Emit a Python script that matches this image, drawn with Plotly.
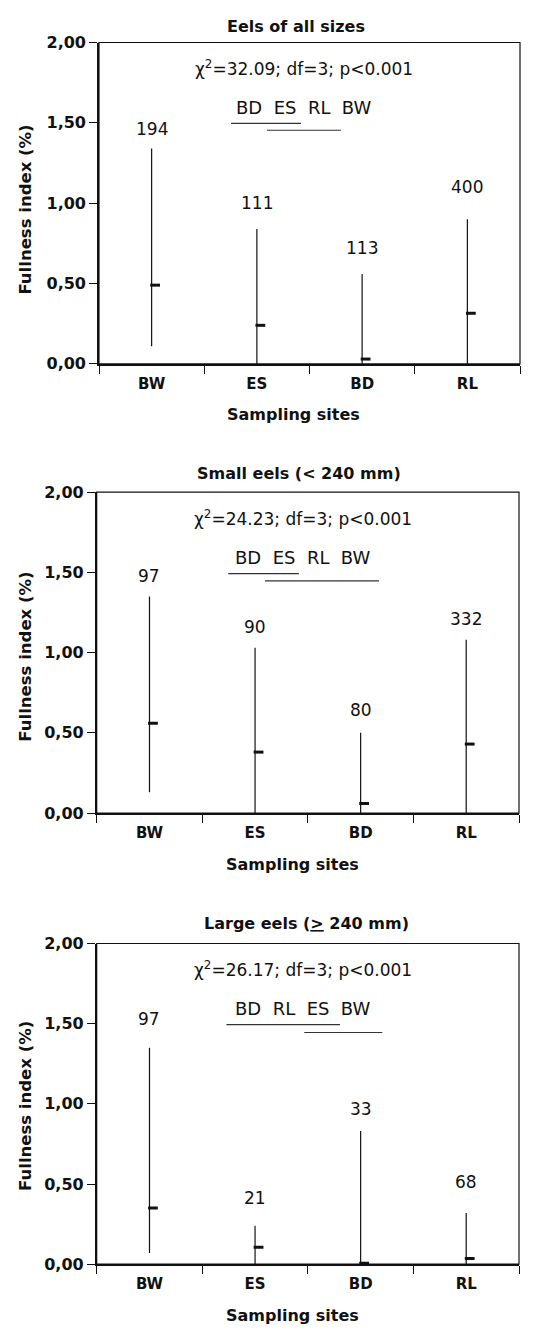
import plotly.graph_objects as go

# ---------------- data ----------------
sites = ["BW", "ES", "BD", "RL"]

panel_titles = ["Eels of all sizes", "Small eels (&lt; 240 mm)", "Large eels (<u>&gt;</u> 240 mm)"]
chi_texts = ["χ<sup>2</sup>=32.09; df=3; p&lt;0.001",
             "χ<sup>2</sup>=24.23; df=3; p&lt;0.001",
             "χ<sup>2</sup>=26.17; df=3; p&lt;0.001"]
order_texts = ["BD  ES  RL  BW", "BD  ES  RL  BW", "BD  RL  ES  BW"]

all_max = [1.34, 0.84, 0.56, 0.90]
all_min = [0.11, 0.00, 0.00, 0.00]
all_mean = [0.49, 0.24, 0.03, 0.315]
all_n = [194, 111, 113, 400]

small_max = [1.35, 1.03, 0.50, 1.08]
small_min = [0.13, 0.00, 0.00, 0.00]
small_mean = [0.56, 0.38, 0.06, 0.43]
small_n = [97, 90, 80, 332]

large_max = [1.35, 0.24, 0.83, 0.32]
large_min = [0.07, 0.00, 0.00, 0.00]
large_mean = [0.35, 0.105, 0.006, 0.035]
large_n = [97, 21, 33, 68]

yticks = [0, 0.5, 1.0, 1.5, 2.0]
yticktext = ["0,00", "0,50", "1,00", "1,50", "2,00"]

# ---------------- layout settings ----------------
W, H = 542, 1336
# pixel boxes of each plot area: (left, right, top, bottom)
boxes = [(99, 520, 34, 360), (96.7, 519, 490, 815.7), (96.7, 519, 948, 1273.3)]
title_pos = [(296, 18), (298.5, 471.7), (306, 927.7)]
xtitle_pos = [(293, 411), (292.5, 868.3), (292.5, 1325)]
ytitle_pos = [(25.5, 204), (25.5, 657.5), (25.5, 1113.3)]
label_y = [[1.46, 1.00, 0.72, 1.10], [1.48, 1.16, 0.64, 1.21], [1.53, 0.41, 0.97, 0.51]]
underlines = [[(1.254, 1.919, 1.497), (1.596, 2.299, 1.454)],
              [(1.246, 1.915, 1.492), (1.594, 2.674, 1.447)],
              [(1.229, 2.304, 1.494), (1.966, 2.705, 1.445)]]

FONT = "DejaVu Sans"
INK = "#111111"

panels = [(all_max, all_min, all_mean, all_n),
          (small_max, small_min, small_mean, small_n),
          (large_max, large_min, large_mean, large_n)]

fig = go.Figure()
annotations = []
shapes = []
centers = [i + 0.5 for i in range(len(sites))]

for p, (mx, mn, me, nn) in enumerate(panels):
    k = "" if p == 0 else str(p + 1)
    xa, ya = "x" + k, "y" + k
    # range lines
    xs, ys = [], []
    for c, lo, hi in zip(centers, mn, mx):
        xs += [c, c, None]
        ys += [lo, hi, None]
    fig.add_trace(go.Scatter(x=xs, y=ys, mode="lines", xaxis=xa, yaxis=ya,
                             line=dict(color=INK, width=1.2), showlegend=False, hoverinfo="skip"))
    # mean ticks (short dash to the right of each line)
    fig.add_trace(go.Scatter(x=[c + 0.033 for c in centers], y=me, mode="markers", xaxis=xa, yaxis=ya,
                             marker=dict(symbol="line-ew", size=7, line=dict(color=INK, width=3)),
                             showlegend=False, hoverinfo="skip"))
    # n labels
    for c, n, ly in zip(centers, nn, label_y[p]):
        annotations.append(dict(x=c, y=ly, xref=xa, yref=ya, text=str(n), showarrow=False,
                                font=dict(family=FONT, size=17, color=INK), yanchor="middle"))
    # stats text
    annotations.append(dict(x=1.95, y=1.84, xref=xa, yref=ya, text=chi_texts[p], showarrow=False,
                            font=dict(family=FONT, size=17, color=INK), yanchor="middle"))
    annotations.append(dict(x=1.95, y=1.595, xref=xa, yref=ya, text=order_texts[p], showarrow=False,
                            font=dict(family=FONT, size=18, color=INK), yanchor="middle"))
    for (x0, x1, yy) in underlines[p]:
        shapes.append(dict(type="line", xref=xa, yref=ya, x0=x0, x1=x1, y0=yy, y1=yy,
                           line=dict(color="#333333", width=1.2)))
    # frame (top & right thin border)
    shapes.append(dict(type="rect", xref=xa + " domain", yref=ya + " domain", x0=0, x1=1, y0=0, y1=1,
                       line=dict(color=INK, width=1.2), layer="above"))
    # titles
    tx, ty = title_pos[p]
    annotations.append(dict(x=tx / W, y=1 - ty / H, xref="paper", yref="paper", text="<b>" + panel_titles[p] + "</b>",
                            showarrow=False, font=dict(family=FONT, size=16, color=INK), yanchor="middle"))
    tx, ty = xtitle_pos[p]
    annotations.append(dict(x=tx / W, y=1 - ty / H, xref="paper", yref="paper", text="<b>Sampling sites</b>",
                            showarrow=False, font=dict(family=FONT, size=16, color=INK), yanchor="middle"))
    tx, ty = ytitle_pos[p]
    annotations.append(dict(x=tx / W, y=1 - ty / H, xref="paper", yref="paper", text="<b>Fullness index (%)</b>",
                            showarrow=False, textangle=-90, font=dict(family=FONT, size=16.5, color=INK),
                            xanchor="center", yanchor="middle"))

    l, r, t, b = boxes[p]
    xkey = "xaxis" + k
    ykey = "yaxis" + k
    fig.update_layout(**{
        xkey: dict(domain=[l / W, r / W], range=[0, 4], anchor=ya,
                   tickmode="array", tickvals=centers, ticktext=["<b>%s</b>" % s for s in sites],
                   ticks="", ticklabelstandoff=5,
                   tickfont=dict(family=FONT, size=15, color=INK),
                   minor=dict(tick0=0, dtick=1, ticks="outside", ticklen=8, tickwidth=1.2, tickcolor=INK),
                   showline=True, linewidth=2.2, linecolor=INK, showgrid=False, zeroline=False, fixedrange=True),
        ykey: dict(domain=[1 - b / H, 1 - t / H], range=[0, 2], anchor=xa,
                   tickmode="array", tickvals=yticks, ticktext=["<b>%s</b>" % s for s in yticktext],
                   ticks="outside", ticklen=8, tickwidth=1.2, tickcolor=INK,
                   tickfont=dict(family=FONT, size=16, color=INK),
                   showline=True, linewidth=1.6, linecolor=INK, showgrid=False, zeroline=False, fixedrange=True),
    })

fig.update_layout(width=W, height=H, margin=dict(l=0, r=0, t=0, b=0),
                  paper_bgcolor="white", plot_bgcolor="white",
                  annotations=annotations, shapes=shapes, showlegend=False)

fig.write_html("out.html")
